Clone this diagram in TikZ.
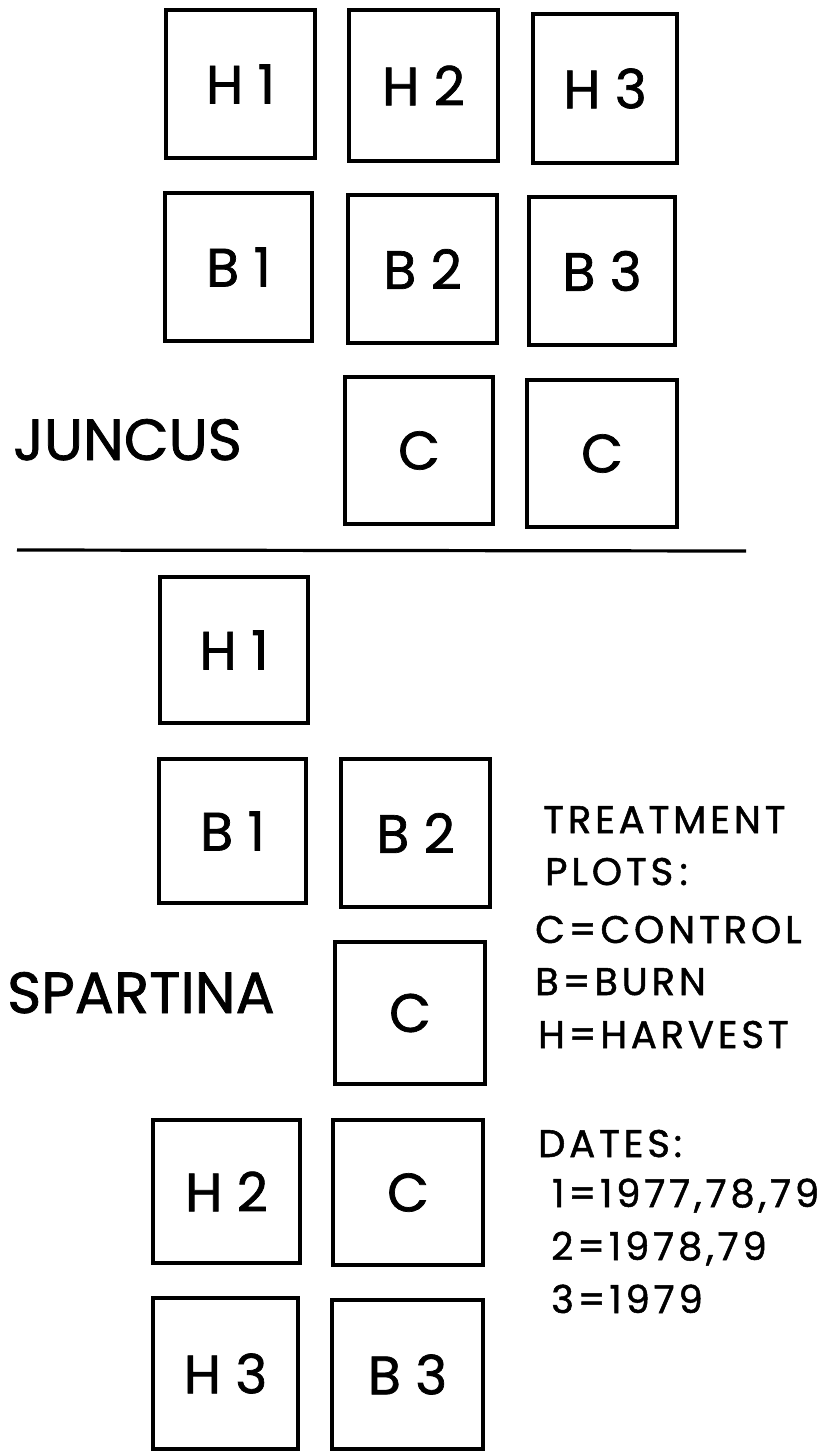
\documentclass[tikz,border=0pt]{standalone}
\usepackage{fontspec}
\setmainfont{Poppins}[FakeBold=1.3]
\newfontfamily\legfont{Poppins}[FakeBold=1.3, LetterSpace=10]
\begin{document}
\begin{tikzpicture}[x=1pt,y=-1pt,
  plot/.style={draw, line width=3.2pt, inner sep=0pt, font=\fontsize{54}{54}\selectfont},
  spname/.style={anchor=base west, inner sep=0pt, font=\fontsize{58}{58}\selectfont},
  legend/.style={anchor=base west, inner sep=0pt, font=\legfont\fontsize{38.5}{38.5}\selectfont}]
\useasboundingbox (0,0) rectangle (835,1451);
% Juncus
\node[plot, minimum width=149pt, minimum height=148pt] (jH1) at (240.5,84) {H~1};
\node[plot, minimum width=149pt, minimum height=151pt] (jH2) at (423.5,85.5) {H~2};
\node[plot, minimum width=144pt, minimum height=149pt] (jH3) at (605,88.5) {H~3};
\node[plot, minimum width=147pt, minimum height=148pt] (jB1) at (238.5,267) {B~1};
\node[plot, minimum width=149pt, minimum height=148pt] (jB2) at (422.5,269) {B~2};
\node[plot, minimum width=146pt, minimum height=148pt] (jB3) at (602,271) {B~3};
\node[plot, minimum width=148pt, minimum height=147pt] (jC1) at (419,450.5) {C};
\node[plot, minimum width=150pt, minimum height=147pt] (jC2) at (602,453.5) {C};
\node[spname] (juncus) at (13,460) {JUNCUS};
\coordinate (divL) at (17,550);
\coordinate (divR) at (746,551);
\draw[line width=3.2pt] (divL) -- (divR);
% Spartina
\node[plot, minimum width=148pt, minimum height=146pt] (sH1) at (234,650) {H~1};
\node[plot, minimum width=147pt, minimum height=144pt] (sB1) at (232.5,831) {B~1};
\node[plot, minimum width=149pt, minimum height=148pt] (sB2) at (415.5,833) {B~2};
\node[plot, minimum width=150pt, minimum height=142pt] (sC1) at (410,1013) {C};
\node[plot, minimum width=147pt, minimum height=143pt] (sH2) at (226.5,1191.5) {H~2};
\node[plot, minimum width=150pt, minimum height=145pt] (sC2) at (408,1192.5) {C};
\node[plot, minimum width=145pt, minimum height=151pt] (sH3) at (225.5,1373.5) {H~3};
\node[plot, minimum width=151pt, minimum height=149pt] (sB3) at (407.5,1374.5) {B~3};
\node[spname] (spartina) at (7,1013) {SPARTINA};
% Legend
\node[legend] (l1) at (543,833) {TREATMENT};
\node[legend] (l2) at (545,885) {PLOTS\,:};
\node[legend] (l3) at (535,943) {C=CONTROL};
\node[legend] (l4) at (535,995) {B=BURN};
\node[legend] (l5) at (538,1048) {H=HARVEST};
\node[legend] (l6) at (538,1157) {DATES:};
\node[legend] (l7) at (552,1207) {1=1977,78,79};
\node[legend] (l8) at (551,1260) {2=1978,79};
\node[legend] (l9) at (551,1313) {3=1979};
\end{tikzpicture}
\end{document}
